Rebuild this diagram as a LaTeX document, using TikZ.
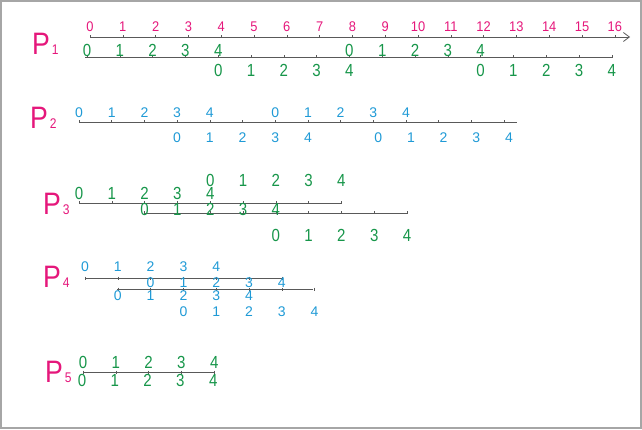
\documentclass[tikz,border=0pt]{standalone}
\usepackage{fontspec}
\setmainfont{Liberation Sans}
\newfontfamily\narrowfont[FakeStretch=0.86]{Liberation Sans}
\newfontfamily\pinkfont[FakeStretch=0.92]{Liberation Sans}
\usepackage{tikz}
\usetikzlibrary{arrows.meta, positioning}
\definecolor{pinkc}{HTML}{E5177B}
\definecolor{greenc}{HTML}{17964A}
\definecolor{bluec}{HTML}{1F9AD6}
\tikzset{>={Straight Barb[length=6pt,width=9pt]}}
\tikzset{
  tline/.style={draw=black!65, line width=0.8pt},
  tickmark/.style={draw=black!65, line width=0.6pt},
  pnum/.style={inner sep=0pt, text=pinkc, font=\pinkfont\fontsize{14}{14}\selectfont},
  gnum/.style={inner sep=0pt, text=greenc, font=\narrowfont\fontsize{17.5}{17.5}\selectfont},
  bnum/.style={inner sep=0pt, text=bluec, font=\fontsize{14}{14}\selectfont},
  pname/.style={inner sep=0pt, text=pinkc, font=\narrowfont\fontsize{31}{31}\selectfont, anchor=south west},
  pidx/.style={inner sep=0pt, text=pinkc, font=\narrowfont\fontsize{14}{14}\selectfont, anchor=south west},
}

\begin{document}
\begin{tikzpicture}[x=1pt, y=-1pt]
      \useasboundingbox (0,0) rectangle (642,430);
      \draw[draw=black!35, line width=2pt] (1,1) rectangle (640.5,428);

      % P1
      \node[pname] (p1) at (32,55) {P};
      \node[pidx, right=1.5pt of p1.south east, anchor=south west] (p1n) {1};
      \coordinate (p1a) at (90,37);
      \coordinate (p1b) at (630,37);
      \draw[tline, ->] (p1a) -- (p1b);
      \foreach \i in {0,...,16} {
        \draw[tickmark] ({90+32.8*\i},35.5) -- ++(0,3);
        \node[pnum] (p1t\i) at ({90+32.8*\i},27) {\i};
      }
      \coordinate (p1c) at (85,57);
      \coordinate (p1d) at (612,57);
      \draw[tline] (p1c) -- (p1d);
      \foreach \i in {0,...,16}
        \draw[tickmark] ({87+32.8*\i},55.5) -- ++(0,3);
      \foreach \i in {0,...,4} {
        \node[gnum] (p1u\i) at ({87+32.8*\i},50) {\i};
        \node[gnum] (p1v\i) at ({87+32.8*(8+\i)},50) {\i};
        \node[gnum] (p1w\i) at ({87+32.8*(4+\i)},70) {\i};
        \node[gnum] (p1x\i) at ({87+32.8*(12+\i)},70) {\i};
      }

      % P2
      \node[pname] (p2) at (30,129) {P};
      \node[pidx, right=1.5pt of p2.south east, anchor=south west] (p2n) {2};
      \coordinate (p2a) at (79,122);
      \coordinate (p2b) at (517,122);
      \draw[tline] (p2a) -- (p2b);
      \foreach \i in {0,...,13}
        \draw[tickmark] ({79+32.7*\i},120.5) -- ++(0,3);
      \foreach \i in {0,...,4} {
        \node[bnum] (p2u\i) at ({79+32.7*\i},113) {\i};
        \node[bnum] (p2v\i) at ({79+32.7*(6+\i)},113) {\i};
        \node[bnum] (p2w\i) at ({79+32.7*(3+\i)},138) {\i};
        \node[bnum] (p2x\i) at ({79+32.7*(9.15+\i)},138) {\i};
      }

      % P3
      \node[pname] (p3) at (43,215) {P};
      \node[pidx, right=1.5pt of p3.south east, anchor=south west] (p3n) {3};
      \coordinate (p3a) at (79,203);
      \coordinate (p3b) at (342,203);
      \draw[tline] (p3a) -- (p3b);
      \coordinate (p3c) at (144,213);
      \coordinate (p3d) at (407,213);
      \draw[tline] (p3c) -- (p3d);
      \foreach \i in {0,...,8} {
        \draw[tickmark] ({79+32.8*\i},201.5) -- ++(0,3);
        \draw[tickmark] ({79+32.8*(2+\i)},211.5) -- ++(0,3);
      }
      \foreach \i in {0,...,4} {
        \node[gnum] (p3u\i) at ({79+32.8*\i},193) {\i};
        \node[gnum] (p3v\i) at ({79+32.8*(4+\i)},180) {\i};
        \node[gnum] (p3w\i) at ({79+32.8*(2+\i)},209) {\i};
        \node[gnum] (p3x\i) at ({79+32.8*(6+\i)},235) {\i};
      }

      % P4
      \node[pname] (p4) at (43,288) {P};
      \node[pidx, right=1.5pt of p4.south east, anchor=south west] (p4n) {4};
      \coordinate (p4a) at (85,278);
      \coordinate (p4b) at (283,278);
      \draw[tline] (p4a) -- (p4b);
      \coordinate (p4c) at (117,289);
      \coordinate (p4d) at (313,289);
      \draw[tline] (p4c) -- (p4d);
      \foreach \i in {0,...,6} {
        \draw[tickmark] ({85+32.8*\i},276.5) -- ++(0,3);
        \draw[tickmark] ({85+32.8*(1+\i)},287.5) -- ++(0,3);
      }
      \foreach \i in {0,...,4} {
        \node[bnum] (p4u\i) at ({85+32.8*\i},267) {\i};
        \node[bnum] (p4v\i) at ({85+32.8*(2+\i)},283) {\i};
        \node[bnum] (p4w\i) at ({85+32.8*(1+\i)},296) {\i};
        \node[bnum] (p4x\i) at ({85+32.8*(3+\i)},312) {\i};
      }

      % P5
      \node[pname] (p5) at (45,383) {P};
      \node[pidx, right=1.5pt of p5.south east, anchor=south west] (p5n) {5};
      \coordinate (p5a) at (83,372);
      \coordinate (p5b) at (214,372);
      \draw[tline] (p5a) -- (p5b);
      \foreach \i in {0,...,4} {
        \draw[tickmark] ({83+32.8*\i},370.5) -- ++(0,3);
        \node[gnum] (p5u\i) at ({83+32.8*\i},362) {\i};
        \node[gnum] (p5v\i) at ({82+32.8*\i},380) {\i};
      }
    \end{tikzpicture}
\end{document}
